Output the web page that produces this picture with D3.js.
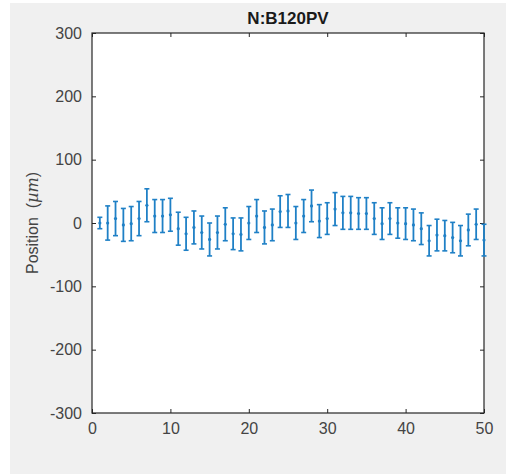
<!DOCTYPE html>
<html>
<head>
<meta charset="utf-8">
<script src="https://cdn.jsdelivr.net/npm/d3@7"></script>
<style>
  html, body { margin: 0; padding: 0; background: #ffffff; }
  svg { display: block; }
</style>
</head>
<body>
<svg id="chart" width="506" height="475"></svg>
<script>
// Sample index along the beam line
const samples = d3.range(1, 51);
// Measured position (µm) at each sample
const positions = [
  0, 0, 7, -3, -1, 7, 28, 11, 11, 13,
  -9, -17, -7, -15, -26, -15, -2, -17, -18, 0,
  11, -7, -3, 18, 19, 0, 11, 27, 3, 7,
  22, 16, 16, 15, 15, 7, -1, 7, 0, -1,
  -3, -9, -28, -19, -20, -23, -28, -11, -2, -27
];
// Half-length of each error bar (µm)
const errors = [
  9, 27, 27, 26, 27, 27, 26, 26, 26, 26,
  26, 26, 26, 26, 26, 26, 26, 25, 26, 26,
  26, 26, 25, 25, 26, 26, 26, 25, 26, 25,
  26, 26, 26, 25, 25, 25, 25, 25, 24, 25,
  25, 25, 24, 25, 24, 24, 24, 25, 24, 25
];
const xTicks = [0, 10, 20, 30, 40, 50];
const yTicks = [-300, -200, -100, 0, 100, 200, 300];
const chartTitle = "N:B120PV";

const svg = d3.select("#chart");
const W = 506, H = 475;
const plot = { left: 92, right: 484, top: 33, bottom: 413 };
const axisColor = "#262626";
const labelColor = "#444444";
const barColor = "#1f80c6";
const font = "'Liberation Sans', Arial, Helvetica, sans-serif";
const plainNumber = d => String(d);

// figure background
svg.append("rect").attr("x", 10).attr("y", 3).attr("width", W - 10).attr("height", 471)
  .attr("fill", "#f0f0f0");

const x = d3.scaleLinear().domain([0, 50]).range([plot.left, plot.right]);
const y = d3.scaleLinear().domain([-300, 300]).range([plot.bottom, plot.top]);

// axes area
svg.append("rect")
  .attr("x", plot.left).attr("y", plot.top)
  .attr("width", plot.right - plot.left).attr("height", plot.bottom - plot.top)
  .attr("fill", "#ffffff");

const tickLen = 4;
function styleAxis(g) {
  g.selectAll(".domain").remove();
  g.selectAll(".tick line").attr("stroke", axisColor).attr("stroke-width", 1);
  g.selectAll(".tick text").attr("fill", labelColor)
    .style("font-family", font).style("font-size", "16px");
}

// bottom axis with labels, ticks pointing inward
svg.append("g").attr("transform", `translate(0,${plot.bottom})`)
  .call(d3.axisBottom(x).tickValues(xTicks).tickFormat(plainNumber)
    .tickSizeInner(-tickLen).tickSizeOuter(0).tickPadding(10))
  .call(styleAxis);
// top axis, ticks only
svg.append("g").attr("transform", `translate(0,${plot.top})`)
  .call(d3.axisTop(x).tickValues(xTicks).tickSizeInner(-tickLen).tickSizeOuter(0).tickFormat(""))
  .call(styleAxis);
// left axis with labels
svg.append("g").attr("transform", `translate(${plot.left},0)`)
  .call(d3.axisLeft(y).tickValues(yTicks).tickFormat(plainNumber)
    .tickSizeInner(-tickLen).tickSizeOuter(0).tickPadding(10))
  .call(styleAxis);
// right axis, ticks only
svg.append("g").attr("transform", `translate(${plot.right},0)`)
  .call(d3.axisRight(y).tickValues(yTicks).tickSizeInner(-tickLen).tickSizeOuter(0).tickFormat(""))
  .call(styleAxis);

// box outline
svg.append("rect")
  .attr("x", plot.left).attr("y", plot.top)
  .attr("width", plot.right - plot.left).attr("height", plot.bottom - plot.top)
  .attr("fill", "none").attr("stroke", axisColor).attr("stroke-width", 1.2);

// error bars
const data = samples.map((s, i) => ({ s, v: positions[i], e: errors[i] }));
const capHalf = 2.5;
const bars = svg.append("g").selectAll("g").data(data).join("g");
bars.append("line")
  .attr("x1", d => x(d.s)).attr("x2", d => x(d.s))
  .attr("y1", d => y(d.v + d.e)).attr("y2", d => y(d.v - d.e))
  .attr("stroke", barColor).attr("stroke-width", 1.8);
bars.append("line")
  .attr("x1", d => x(d.s) - capHalf).attr("x2", d => x(d.s) + capHalf)
  .attr("y1", d => y(d.v + d.e)).attr("y2", d => y(d.v + d.e))
  .attr("stroke", barColor).attr("stroke-width", 1.6);
bars.append("line")
  .attr("x1", d => x(d.s) - capHalf).attr("x2", d => x(d.s) + capHalf)
  .attr("y1", d => y(d.v - d.e)).attr("y2", d => y(d.v - d.e))
  .attr("stroke", barColor).attr("stroke-width", 1.6);
bars.append("circle")
  .attr("cx", d => x(d.s)).attr("cy", d => y(d.v)).attr("r", 1.6)
  .attr("fill", barColor);

// title
svg.append("text")
  .attr("x", (plot.left + plot.right) / 2).attr("y", 24)
  .attr("text-anchor", "middle")
  .style("font-family", font).style("font-size", "17px").style("font-weight", "bold")
  .attr("fill", "#1a1a1a")
  .text(chartTitle);

// y-axis label
const yl = svg.append("text")
  .attr("transform", `translate(38,${(plot.top + plot.bottom) / 2}) rotate(-90)`)
  .attr("text-anchor", "middle")
  .style("font-family", font).style("font-size", "16px")
  .style("white-space", "pre")
  .attr("fill", labelColor);
yl.append("tspan").text("Position  (");
yl.append("tspan").style("font-style", "italic").style("font-family", "'DejaVu Serif', 'Liberation Serif', serif").text("µm");
yl.append("tspan").text(")");
</script>
</body>
</html>
